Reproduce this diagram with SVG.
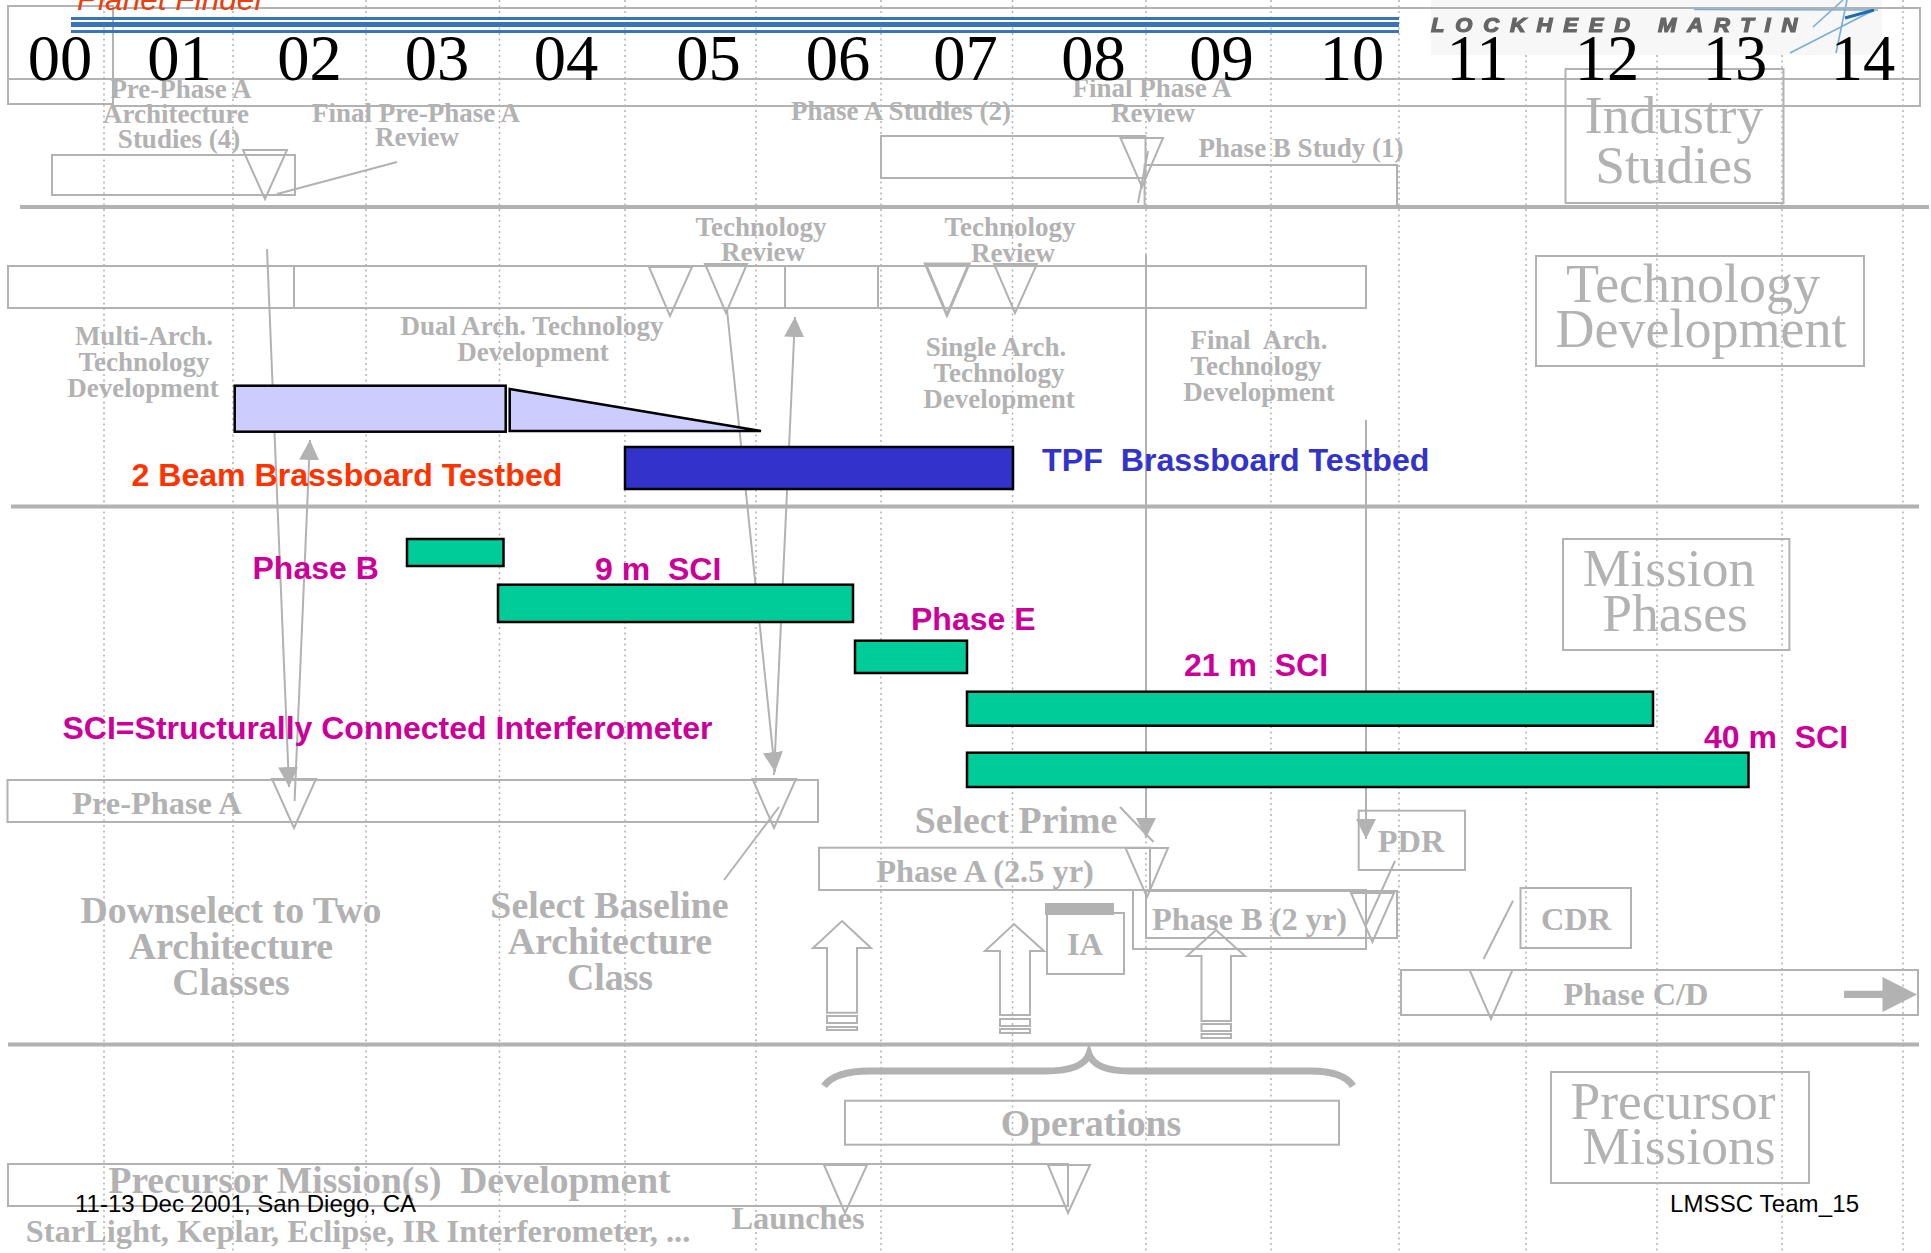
<svg xmlns="http://www.w3.org/2000/svg" width="1931" height="1253" viewBox="0 0 1931 1253">
<style>
text{white-space:pre}
.g{fill:none;stroke:#b2b2b2;stroke-width:2}
.t{fill:#fff;stroke:#b2b2b2;stroke-width:2;fill-opacity:0}
.sec{stroke:#b2b2b2;stroke-width:4;fill:none}
.grid{stroke:#b2b2b2;stroke-width:1.5;stroke-dasharray:2 3.5}
.ln{stroke:#b2b2b2;stroke-width:2;fill:none}
.b{font-family:"Liberation Serif",serif;font-weight:bold;fill:#b2b2b2;text-anchor:middle}
.s26{font-size:27px}.s32{font-size:32.4px}.s37{font-size:37.8px}
.h{font-family:"Liberation Serif",serif;fill:#b2b2b2;font-size:53.5px;text-anchor:middle}
.y{font-family:"Liberation Serif",serif;fill:#000;font-size:64.5px;text-anchor:middle}
.m{font-family:"Liberation Sans",sans-serif;font-weight:bold;fill:#cc0099;font-size:32px}
.k{font-family:"Liberation Sans",sans-serif;fill:#000;font-size:24px}
.gr{fill:#00cc99;stroke:#000;stroke-width:2.5}
.lav{fill:#ccccff;stroke:#000;stroke-width:2.5}
.ga{fill:#b2b2b2;stroke:none}
</style>
<defs>
<marker id="ah" markerUnits="userSpaceOnUse" viewBox="0 0 20 20" markerWidth="20" markerHeight="20" refX="20" refY="10" orient="auto"><path d="M0 0L20 10L0 20Z" fill="#b2b2b2"/></marker>
<filter id="soft" x="-5%" y="-20%" width="110%" height="140%"><feGaussianBlur stdDeviation="0.6"/></filter>
</defs>

<g id="grid">
<line class="grid" x1="104" y1="0" x2="104" y2="1253"/>
<line class="grid" x1="233" y1="0" x2="233" y2="1253"/>
<line class="grid" x1="366" y1="0" x2="366" y2="1253"/>
<line class="grid" x1="499.5" y1="0" x2="499.5" y2="1253"/>
<line class="grid" x1="625" y1="0" x2="625" y2="1253"/>
<line class="grid" x1="756" y1="0" x2="756" y2="1253"/>
<line class="grid" x1="881" y1="0" x2="881" y2="1253"/>
<line class="grid" x1="1012.5" y1="0" x2="1012.5" y2="1253"/>
<line class="grid" x1="1146" y1="0" x2="1146" y2="1253"/>
<line class="grid" x1="1271" y1="0" x2="1271" y2="1253"/>
<line class="grid" x1="1399" y1="0" x2="1399" y2="1253"/>
<line class="grid" x1="1526" y1="0" x2="1526" y2="1253"/>
<line class="grid" x1="1657" y1="0" x2="1657" y2="1253"/>
<line class="grid" x1="1782" y1="0" x2="1782" y2="1253"/>
<line class="grid" x1="1903" y1="0" x2="1903" y2="1253"/>
</g>

<g id="logo">
<rect x="1431" y="0" width="451" height="55" fill="#f7f7f7"/>
<text transform="translate(1431,32) scale(1.1,1)" x="0" y="0" font-family="Liberation Sans,sans-serif" font-weight="bold" font-style="italic" font-size="20" fill="#666" stroke="#666" stroke-width="1.2" textLength="333" lengthAdjust="spacing" filter="url(#soft)">LOCKHEED MARTIN</text>
<path d="M1694 9.5L1878 10M1790 53L1874 10M1813 27L1843 0M1836 53L1847 0" fill="none" stroke="#5a9bd0" stroke-width="1.6" opacity=".8"/>
<path d="M1845 18L1874 10" fill="none" stroke="#1f6cae" stroke-width="3"/>
</g>

<g id="header-frame">
<rect class="g" x="8" y="6" width="105" height="98"/>
<path class="g" d="M113 8H1920V106H113M8 79H1920"/>
<rect x="71" y="17" width="1328" height="3" fill="#3a74b8"/>
<rect x="71" y="22" width="1328" height="5" fill="#3a74b8"/>
<rect x="71" y="30" width="1328" height="3" fill="#3a74b8"/>
<text x="77" y="10" font-family="Liberation Sans,sans-serif" font-style="italic" font-size="31.6" fill="#e8400f">Planet Finder</text>
</g>

<g id="section-rules">
<line class="sec" x1="20" y1="207" x2="1929" y2="207"/>
<line class="sec" x1="11" y1="506.500" x2="1919" y2="506.500"/>
<line class="sec" x1="8" y1="1044.500" x2="1919" y2="1044.500"/>
</g>

<g id="connectors">
<line class="ln" x1="267" y1="249" x2="289" y2="787" marker-end="url(#ah)"/>
<line class="ln" x1="294.600" y1="801" x2="310" y2="440" marker-end="url(#ah)"/>
<line class="ln" x1="727" y1="310" x2="775" y2="772" marker-end="url(#ah)"/>
<line class="ln" x1="774" y1="775" x2="795" y2="317" marker-end="url(#ah)"/>
<line class="ln" x1="1146" y1="255" x2="1146" y2="838" marker-end="url(#ah)"/>
<line class="ln" x1="1366" y1="420" x2="1366" y2="839" marker-end="url(#ah)"/>
<line class="ln" x1="397" y1="162" x2="277" y2="194"/>
<line class="ln" x1="1148" y1="151" x2="1138" y2="203"/>
<line class="ln" x1="779" y1="807" x2="724" y2="880"/>
<line class="ln" x1="1120" y1="807" x2="1153.600" y2="842"/>
<line class="ln" x1="1395" y1="861" x2="1366" y2="925"/>
<line class="ln" x1="1513" y1="900.700" x2="1483.600" y2="959"/>
</g>

<g id="industry-studies">
<g id="prephase-studies">
<rect class="g" x="52" y="155" width="243" height="40"/>
<polygon class="t" points="243,150 287,150 265,199"/>
<text class="b s26" x="181" y="98">Pre-Phase A</text>
<text class="b s26" x="176" y="123">Architecture</text>
<text class="b s26" x="179" y="148">Studies (4)</text>
</g>
<g id="final-prephase-review">
<text class="b s26" x="416" y="122">Final Pre-Phase A</text>
<text class="b s26" x="417" y="146">Review</text>
</g>
<g id="phase-a-studies">
<rect class="g" x="881" y="136" width="264.500" height="42"/>
<text class="b s26" x="901" y="120">Phase A Studies (2)</text>
</g>
<g id="final-phase-a-review">
<polygon class="t" points="1120.500,138 1163,138 1142,187"/>
<text class="b s26" x="1152" y="97">Final Phase A</text>
<text class="b s26" x="1153" y="122">Review</text>
</g>
<g id="phase-b-study">
<path class="g" d="M1144.600 207V165H1397V207"/>
<text class="b s26" x="1301" y="157">Phase B Study (1)</text>
</g>
<g id="industry-label">
<rect class="g" x="1565.500" y="69" width="218" height="134"/>
<text class="h" x="1674" y="133">Industry</text>
<text class="h" x="1674" y="183">Studies</text>
</g>
</g>

<g id="technology-development">
<g id="tech-bar">
<rect class="g" x="8" y="266" width="1358" height="42"/>
<path class="g" d="M294 266V308M785 266V308M878 266V308"/>
</g>
<g id="tech-review-1">
<polygon class="t" points="649,267 692,267 670,316"/>
<polygon class="t" points="705,264 747,264 726,313"/>
<text class="b s26" x="761" y="236">Technology</text>
<text class="b s26" x="763" y="261">Review</text>
</g>
<g id="tech-review-2">
<polygon class="t" points="925.500,264 969,264 947,315" style="stroke-width:3"/>
<polygon class="t" points="994,264 1037,264 1015,313"/>
<text class="b s26" x="1010" y="236">Technology</text>
<text class="b s26" x="1013" y="262">Review</text>
</g>
<g id="multi-arch">
<text class="b s26" x="144" y="345">Multi-Arch.</text>
<text class="b s26" x="144" y="371">Technology</text>
<text class="b s26" x="143" y="397">Development</text>
</g>
<g id="dual-arch">
<text class="b s26" x="532" y="335">Dual Arch. Technology</text>
<text class="b s26" x="533" y="361">Development</text>
</g>
<g id="single-arch">
<text class="b s26" x="996" y="356">Single Arch.</text>
<text class="b s26" x="999" y="382">Technology</text>
<text class="b s26" x="999" y="408">Development</text>
</g>
<g id="final-arch">
<text class="b s26" x="1259" y="349">Final  Arch.</text>
<text class="b s26" x="1256" y="375">Technology</text>
<text class="b s26" x="1259" y="401">Development</text>
</g>
<g id="tech-label">
<rect class="g" x="1536" y="256" width="328" height="110"/>
<text class="h" x="1693" y="302" style="font-size:54px">Technology</text>
<text class="h" x="1701" y="347" style="font-size:54px">Development</text>
</g>
</g>

<g id="testbeds">
<rect id="multi-arch-bar" class="lav" x="234.700" y="385.700" width="271" height="46"/>
<polygon id="dual-arch-wedge" class="lav" points="509.700,389 509.700,431 761,431"/>
<rect id="tpf-bar" x="625" y="447" width="388" height="42" fill="#3333cc" stroke="#000" stroke-width="2.500"/>
<text id="beam-label" x="131.500" y="486" font-family="Liberation Sans,sans-serif" font-weight="bold" font-size="32.1" fill="#ff3300">2 Beam Brassboard Testbed</text>
<text id="tpf-label" x="1042" y="471" font-family="Liberation Sans,sans-serif" font-weight="bold" font-size="32.2" fill="#3333cc">TPF  Brassboard Testbed</text>
</g>

<g id="mission-bars">
<g id="phase-b"><rect class="gr" x="407" y="539" width="96.500" height="27"/><text class="m" x="252.500" y="579">Phase B</text></g>
<g id="sci-9m"><rect class="gr" x="498" y="584.700" width="355" height="37.300"/><text class="m" x="595" y="580">9 m  SCI</text></g>
<g id="phase-e"><rect class="gr" x="855" y="640.700" width="112" height="32.300"/><text class="m" x="911" y="630">Phase E</text></g>
<g id="sci-21m"><rect class="gr" x="967" y="691.700" width="686" height="34"/><text class="m" x="1184" y="676">21 m  SCI</text></g>
<g id="sci-40m"><rect class="gr" x="967" y="752.700" width="781.500" height="34.300"/><text class="m" x="1704" y="748">40 m  SCI</text></g>
<text id="sci-note" class="m" x="62.500" y="739">SCI=Structurally Connected Interferometer</text>
<g id="mission-label">
<rect class="g" x="1563" y="539" width="226.400" height="111"/>
<text class="h" x="1669" y="586">Mission</text>
<text class="h" x="1675" y="631">Phases</text>
</g>
</g>

<g id="phases">
<g id="pre-phase-a">
<rect class="g" x="7.500" y="780" width="810.500" height="42"/>
<polygon class="t" points="272,779 316,779 294,828"/>
<polygon class="t" points="752.500,779 796,779 774,828"/>
<text class="b s32" x="157" y="814">Pre-Phase A</text>
</g>
<g id="downselect">
<text class="b s37" x="231" y="923">Downselect to Two</text>
<text class="b s37" x="231" y="959">Architecture</text>
<text class="b s37" x="231" y="995">Classes</text>
</g>
<g id="select-baseline">
<text class="b s37" x="609.500" y="918">Select Baseline</text>
<text class="b s37" x="610" y="954">Architecture</text>
<text class="b s37" x="610" y="990">Class</text>
</g>
<g id="select-prime"><text class="b s37" x="1016" y="833">Select Prime</text></g>
<g id="phase-a">
<rect class="g" x="819" y="847.700" width="331" height="42.300"/>
<polygon class="t" points="1125.500,848 1168,848 1147,897"/>
<text class="b s32" x="985" y="882">Phase A (2.5 yr)</text>
</g>
<g id="phase-b-bar">
<rect class="g" x="1133" y="890" width="233" height="59"/>
<rect class="g" x="1146" y="891" width="251" height="47"/>
<polygon class="t" points="1351,893 1394,893 1372.400,942"/>
<text class="b s32" x="1249.500" y="930">Phase B (2 yr)</text>
</g>
<g id="pdr">
<rect class="g" x="1358.700" y="810.700" width="106.300" height="59.300"/>
<text class="b s32" x="1411" y="852">PDR</text>
</g>
<g id="cdr">
<rect class="g" x="1520.500" y="888" width="110.500" height="60"/>
<text class="b s32" x="1576" y="930">CDR</text>
</g>
<g id="ia">
<rect class="g" x="1047" y="913" width="77" height="61"/>
<rect class="ga" x="1045" y="903" width="69" height="12"/>
<text class="b s32" x="1085" y="955">IA</text>
</g>
<g id="phase-cd">
<rect class="g" x="1401" y="970" width="517" height="45"/>
<polygon class="t" points="1469.600,970 1512.500,970 1491,1019"/>
<text class="b s32" x="1636" y="1005">Phase C/D</text>
<path class="ga" d="M1844 990.700H1882.500V977L1917 994.500L1882.500 1012V998H1844Z"/>
</g>
<g id="block-arrow-1">
<path class="g" d="M842 921L871 948H857V1012.700H827V948H813Z"/>
<rect class="g" x="827" y="1016" width="30" height="7"/><rect class="g" x="827" y="1027" width="30" height="3"/>
</g>
<g id="block-arrow-2">
<path class="g" d="M1014 924L1044 951H1030V1015H1000V951H985Z"/>
<rect class="g" x="1000" y="1019" width="30" height="7"/><rect class="g" x="1000" y="1029" width="30" height="4"/>
</g>
<g id="block-arrow-3">
<path class="g" d="M1216 930L1245 956H1231V1021H1201.500V956H1187Z"/>
<rect class="g" x="1201.500" y="1024" width="29.500" height="7"/><rect class="g" x="1201.500" y="1034" width="29.500" height="4"/>
</g>
</g>

<g id="precursor">
<path id="brace" d="M824 1086C832 1075 850 1071 870 1071L1045 1071C1070 1071 1085 1066 1089 1054C1093 1066 1108 1071 1130 1071L1310 1071C1330 1071 1346 1075 1353 1086" fill="none" stroke="#b2b2b2" stroke-width="7"/>
<g id="operations">
<rect class="g" x="845" y="1100.700" width="494" height="44"/>
<text class="b s37" x="1091" y="1136">Operations</text>
</g>
<g id="precursor-dev">
<rect class="g" x="8" y="1164" width="1060" height="42"/>
<polygon class="t" points="824,1165 867,1165 845,1213"/>
<polygon class="t" points="1048,1165 1090,1165 1068,1213"/>
<text class="b" style="font-size:37.5px" x="389.500" y="1193">Precursor Mission(s)  Development</text>
</g>
<text class="b s32" x="358" y="1242">StarLight, Keplar, Eclipse, IR Interferometer, ...</text>
<text class="b s32" x="798" y="1229">Launches</text>
<g id="precursor-label">
<rect class="g" x="1551" y="1072" width="258" height="111"/>
<text class="h" x="1673" y="1119">Precursor</text>
<text class="h" x="1679" y="1164">Missions</text>
</g>
</g>

<g id="years">
<text class="y" x="60" y="80">00</text>
<text class="y" x="179.500" y="80">01</text>
<text class="y" x="309.500" y="80">02</text>
<text class="y" x="437" y="80">03</text>
<text class="y" x="566" y="80">04</text>
<text class="y" x="708.500" y="80">05</text>
<text class="y" x="838" y="80">06</text>
<text class="y" x="965.500" y="80">07</text>
<text class="y" x="1093.500" y="80">08</text>
<text class="y" x="1221.500" y="80">09</text>
<text class="y" x="1352" y="80">10</text>
<text class="y" x="1477.500" y="80">11</text>
<text class="y" x="1607" y="80">12</text>
<text class="y" x="1735" y="80">13</text>
<text class="y" x="1863" y="80">14</text>
</g>

<g id="footer">
<text class="k" x="75" y="1212">11-13 Dec 2001, San Diego, CA</text>
<text class="k" x="1670" y="1212" textLength="189">LMSSC Team_15</text>
</g>
</svg>
